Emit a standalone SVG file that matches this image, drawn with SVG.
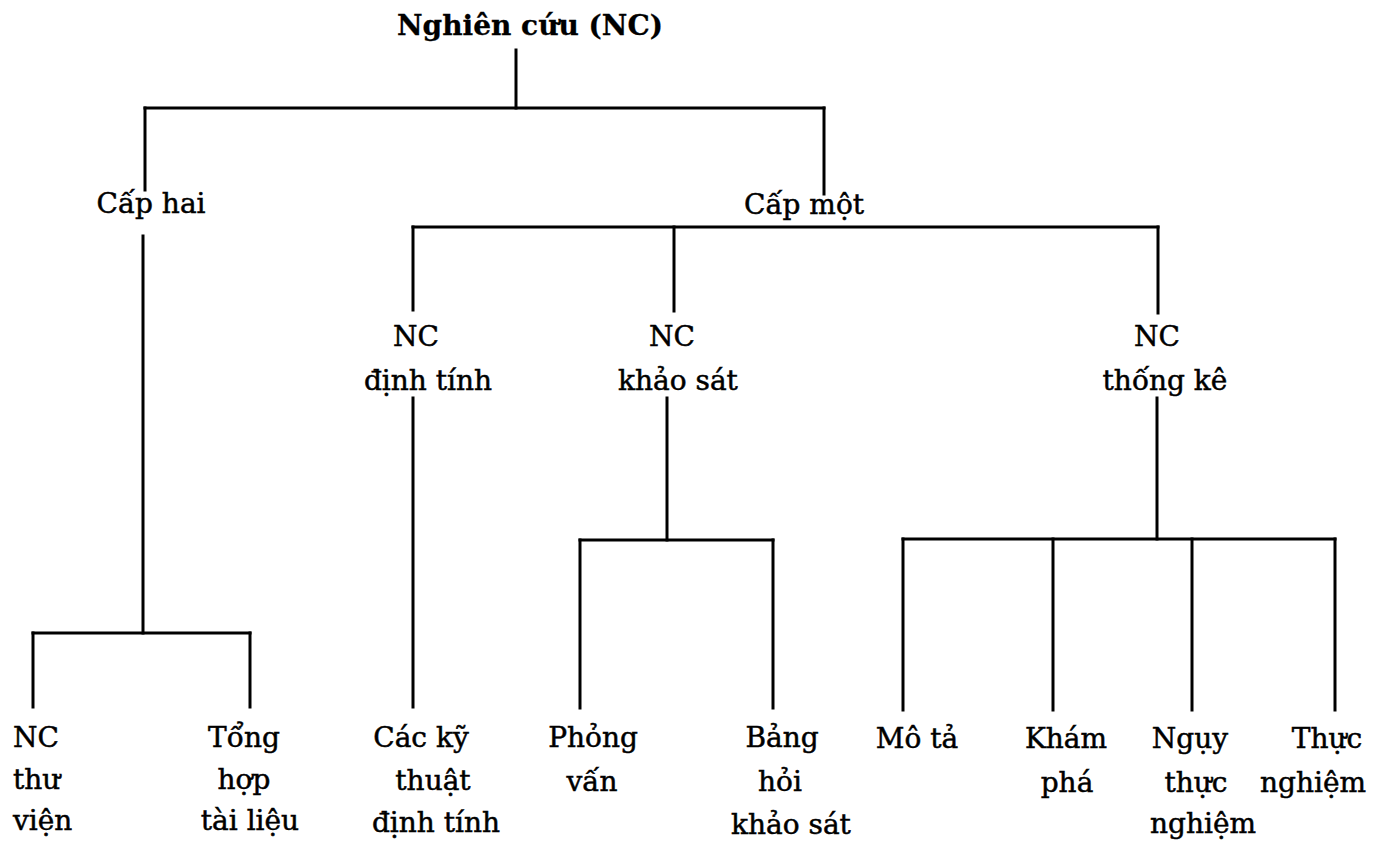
<svg xmlns="http://www.w3.org/2000/svg" width="1395" height="845" viewBox="0 0 1395 845">
<style>
.t{font-family:"DejaVu Serif","Liberation Serif",serif;font-size:28px;fill:#000;stroke:#000;stroke-width:0.5;text-anchor:middle}
.b{font-weight:bold;stroke-width:0.3}
.s{text-anchor:start}
.c line{stroke:#000;stroke-width:3;stroke-linecap:square}
</style>
<rect width="1395" height="845" fill="#fff"/>
<g id="connectors" class="c">
<line x1="516" y1="50" x2="516" y2="108"/>
<line x1="145" y1="108" x2="824" y2="108"/>
<line x1="145" y1="108" x2="145" y2="190"/>
<line x1="824" y1="108" x2="824" y2="194"/>
<line x1="143" y1="236" x2="143" y2="633"/>
<line x1="33" y1="633" x2="250" y2="633"/>
<line x1="33" y1="633" x2="33" y2="707"/>
<line x1="250" y1="633" x2="250" y2="707"/>
<line x1="413" y1="227" x2="1158" y2="227"/>
<line x1="413" y1="227" x2="413" y2="310"/>
<line x1="674" y1="227" x2="674" y2="311"/>
<line x1="1158" y1="227" x2="1158" y2="313"/>
<line x1="413" y1="398" x2="413" y2="707"/>
<line x1="667" y1="398" x2="667" y2="540"/>
<line x1="580" y1="540" x2="773" y2="540"/>
<line x1="580" y1="540" x2="580" y2="708"/>
<line x1="773" y1="540" x2="773" y2="708"/>
<line x1="1157" y1="398" x2="1157" y2="539"/>
<line x1="903" y1="539" x2="1335" y2="539"/>
<line x1="903" y1="539" x2="903" y2="710"/>
<line x1="1053" y1="539" x2="1053" y2="710"/>
<line x1="1192" y1="539" x2="1192" y2="710"/>
<line x1="1335" y1="539" x2="1335" y2="710"/>
</g>
<g id="root"><text class="t b" x="530" y="35">Nghiên cứu (NC)</text></g>
<g id="cap-hai"><text class="t" x="151" y="213">Cấp hai</text></g>
<g id="cap-mot"><text class="t" x="804" y="214">Cấp một</text></g>
<g id="nc-dinh-tinh"><text class="t" x="416" y="346">NC</text><text class="t" x="428" y="390">định tính</text></g>
<g id="nc-khao-sat"><text class="t" x="672" y="346">NC</text><text class="t" x="678" y="390">khảo sát</text></g>
<g id="nc-thong-ke"><text class="t" x="1157" y="346">NC</text><text class="t" x="1165" y="390">thống kê</text></g>
<g id="nc-thu-vien"><text class="t s" x="13" y="747">NC</text><text class="t s" x="13" y="789">thư</text><text class="t s" x="13" y="830">viện</text></g>
<g id="tong-hop"><text class="t" x="244" y="747">Tổng</text><text class="t" x="244" y="789">hợp</text><text class="t" x="250" y="830">tài liệu</text></g>
<g id="ky-thuat"><text class="t" x="421" y="747">Các kỹ</text><text class="t" x="433" y="790">thuật</text><text class="t" x="436" y="832">định tính</text></g>
<g id="phong-van"><text class="t" x="593" y="747">Phỏng</text><text class="t" x="592" y="791">vấn</text></g>
<g id="bang-hoi"><text class="t" x="782" y="747">Bảng</text><text class="t" x="780" y="791">hỏi</text><text class="t" x="791" y="834">khảo sát</text></g>
<g id="mo-ta"><text class="t" x="917" y="748">Mô tả</text></g>
<g id="kham-pha"><text class="t" x="1066" y="748">Khám</text><text class="t" x="1067" y="792">phá</text></g>
<g id="nguy-thuc-nghiem"><text class="t" x="1190" y="748">Ngụy</text><text class="t" x="1196" y="792">thực</text><text class="t" x="1203" y="833">nghiệm</text></g>
<g id="thuc-nghiem"><text class="t" x="1327" y="748">Thực</text><text class="t" x="1313" y="792">nghiệm</text></g>
</svg>
